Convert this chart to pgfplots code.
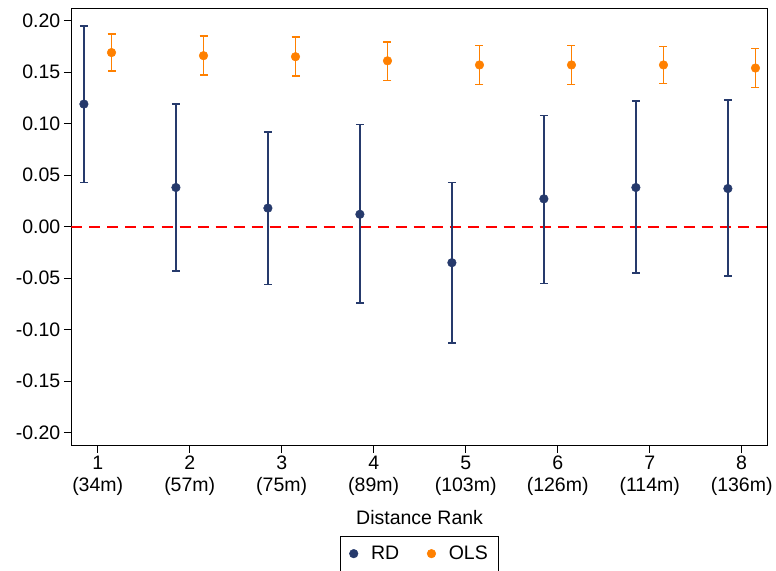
\documentclass[border=0pt]{standalone}
\usepackage{pgfplots}
\pgfplotsset{compat=1.18}
\usepackage{pgfplotstable}
\usepackage{fontspec}
\setmainfont{Liberation Sans}
\definecolor{rdblue}{RGB}{38,58,108}
\definecolor{olsorange}{RGB}{255,128,0}
\pgfplotstableread{
rank y lo hi
1 0.119 0.043 0.195
2 0.038 -0.043 0.119
3 0.018 -0.056 0.092
4 0.012 -0.074 0.099
5 -0.035 -0.113 0.043
6 0.027 -0.055 0.108
7 0.038 -0.045 0.122
8 0.037 -0.048 0.123
}\rdtab
\pgfplotstableread{
rank y lo hi
1 0.169 0.151 0.187
2 0.166 0.147 0.185
3 0.165 0.146 0.184
4 0.161 0.142 0.179
5 0.157 0.138 0.176
6 0.157 0.138 0.176
7 0.157 0.139 0.175
8 0.154 0.135 0.173
}\olstab
\newcommand\fs{\fontsize{19.5bp}{22bp}\selectfont}
\begin{document}
\begin{tikzpicture}
\begin{axis}[name=ax, scale only axis, width=696.2bp, height=436.7bp,
  xmin=0.715, xmax=8.283, ymin=-0.212, ymax=0.212,
  xtick={1,2,3,4,5,6,7,8},
  xticklabels={{1\\(34m)},{2\\(57m)},{3\\(75m)},{4\\(89m)},{5\\(103m)},{6\\(126m)},{7\\(114m)},{8\\(136m)}},
  ytick={-0.20,-0.15,-0.10,-0.05,0,0.05,0.10,0.15,0.20},
  yticklabels={-0.20,-0.15,-0.10,-0.05,0.00,0.05,0.10,0.15,0.20},
  tick align=outside, tick pos=left, major tick length=7.7bp,
  tick style={black, line width=0.8bp},
  axis line style={black, line width=1bp},
  ticklabel style={font=\fs},
  xticklabel style={align=center},
  xlabel={Distance Rank},
  xlabel style={font=\fs, at={(axis description cs:0.5,0)}, anchor=center, yshift=-73bp},
  legend image code/.code={\draw[#1] plot coordinates {(0bp,0bp)};},
  legend style={font=\fs, at={(axis description cs:0.5,-0.2077)}, anchor=north,
    legend columns=2, draw=black, line width=0.8bp, inner xsep=9bp, inner ysep=8bp,
    /tikz/column 1/.style={column sep=11bp},
    /tikz/column 2/.style={column sep=26bp},
    /tikz/column 3/.style={column sep=11bp}},
]
\addplot[red, line width=2bp, dash pattern=on 11bp off 7bp, forget plot] coordinates {(0.715,0) (8.283,0)};
\addplot[only marks, mark=*, mark size=4.3bp, color=rdblue, mark options={fill=rdblue, draw=rdblue, line width=0.5bp},
  error bars/.cd, y dir=both, y explicit, error mark=-,
  error bar style={line width=1.5bp, rdblue},
  error mark options={rotate=90, mark size=4bp, line width=1.5bp, rdblue}]
  table[x expr=\thisrow{rank}-0.15, y=y, y error plus expr=\thisrow{hi}-\thisrow{y}, y error minus expr=\thisrow{y}-\thisrow{lo}] {\rdtab};
\addlegendentry{RD}
\addplot[only marks, mark=*, mark size=4.3bp, color=olsorange, mark options={fill=olsorange, draw=olsorange, line width=0.5bp},
  error bars/.cd, y dir=both, y explicit, error mark=-,
  error bar style={line width=1.6bp, olsorange},
  error mark options={rotate=90, mark size=4bp, line width=1.6bp, olsorange}]
  table[x expr=\thisrow{rank}+0.15, y=y, y error plus expr=\thisrow{hi}-\thisrow{y}, y error minus expr=\thisrow{y}-\thisrow{lo}] {\olstab};
\addlegendentry{OLS}
\end{axis}
\pgfresetboundingbox
\path[use as bounding box] ([shift={(-71.5bp,-126bp)}]ax.south west) rectangle ([shift={(704.5bp,445bp)}]ax.south west);
\end{tikzpicture}
\end{document}
